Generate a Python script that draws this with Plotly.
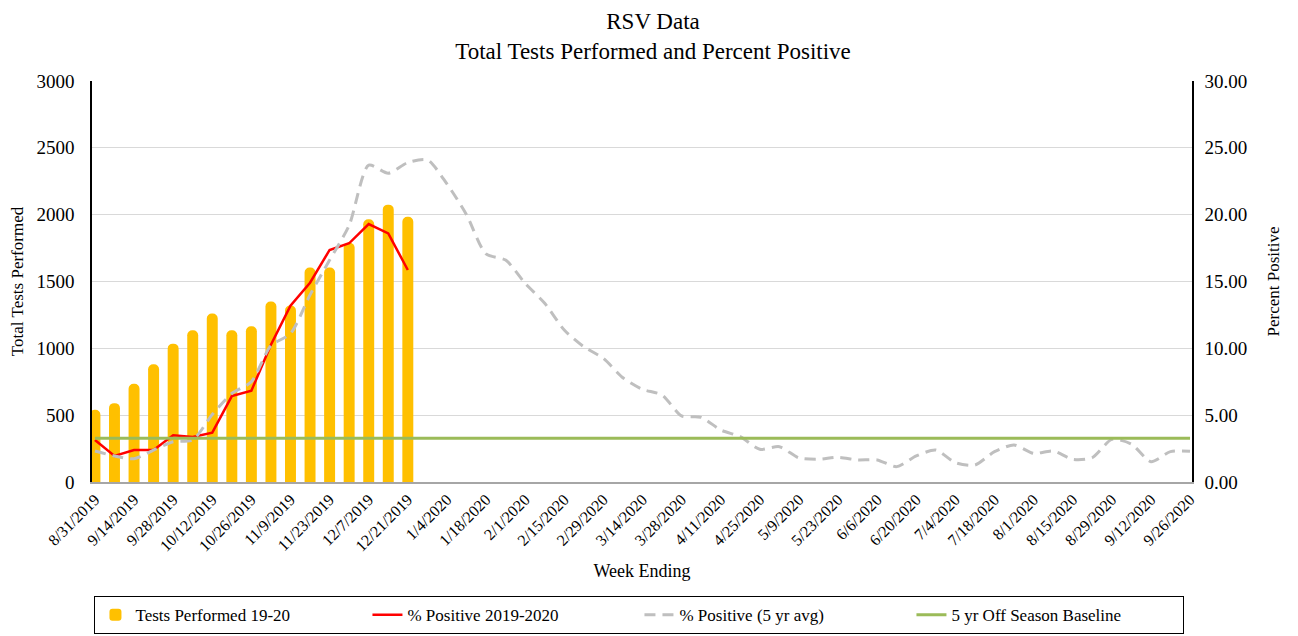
import plotly.graph_objects as go

# week ending dates (categories)
weeks = ["8/31/2019", "9/7/2019", "9/14/2019", "9/21/2019", "9/28/2019",
         "10/5/2019", "10/12/2019", "10/19/2019", "10/26/2019", "11/2/2019",
         "11/9/2019", "11/16/2019", "11/23/2019", "11/30/2019", "12/7/2019",
         "12/14/2019", "12/21/2019", "12/28/2019", "1/4/2020", "1/11/2020",
         "1/18/2020", "1/25/2020", "2/1/2020", "2/8/2020", "2/15/2020",
         "2/22/2020", "2/29/2020", "3/7/2020", "3/14/2020", "3/21/2020",
         "3/28/2020", "4/4/2020", "4/11/2020", "4/18/2020", "4/25/2020",
         "5/2/2020", "5/9/2020", "5/16/2020", "5/23/2020", "5/30/2020",
         "6/6/2020", "6/13/2020", "6/20/2020", "6/27/2020", "7/4/2020",
         "7/11/2020", "7/18/2020", "7/25/2020", "8/1/2020", "8/8/2020",
         "8/15/2020", "8/22/2020", "8/29/2020", "9/5/2020", "9/12/2020",
         "9/19/2020", "9/26/2020"]

# tests performed 19-20 (season so far)
tests_1920 = [540, 590, 735, 880, 1035, 1135, 1260, 1135, 1165, 1350,
              1320, 1605, 1605, 1790, 1965, 2075, 1985]

# % positive 2019-2020
pos_1920 = [3.14, 1.95, 2.39, 2.39, 3.49, 3.37, 3.69, 6.43, 6.83, 10.27,
            13.19, 14.91, 17.36, 17.86, 19.30, 18.60, 15.86]

# % positive, 5 year average
pos_5yr = [2.32, 1.95, 1.74, 2.39, 3.01, 3.15, 5.05, 6.62, 7.50, 10.20,
           11.10, 14.00, 16.60, 19.20, 23.70, 23.10, 23.90, 24.10, 22.30, 20.00,
           17.06, 16.60, 14.86, 13.37, 11.37, 10.12, 9.25, 7.80, 6.93, 6.51,
           4.94, 4.84, 3.89, 3.39, 2.45, 2.64, 1.80, 1.70, 1.85, 1.65,
           1.65, 1.15, 1.95, 2.39, 1.45, 1.27, 2.27, 2.77, 2.14, 2.32,
           1.70, 1.82, 3.19, 2.84, 1.52, 2.27, 2.30]

# 5 yr off season baseline
baseline = 3.27

tick_weeks = weeks[::2]

FONT = "Liberation Serif"

fig = go.Figure()
fig.add_trace(go.Bar(
    x=weeks[:len(tests_1920)], y=tests_1920, name="Tests Performed 19-20",
    marker=dict(color="#FFC000", line=dict(width=0)), width=0.56))
fig.add_trace(go.Scatter(
    x=weeks[:len(pos_1920)], y=pos_1920, name="% Positive 2019-2020",
    mode="lines", line=dict(color="#FF0000", width=2.5), yaxis="y2"))
fig.add_trace(go.Scatter(
    x=weeks, y=pos_5yr, name="% Positive (5 yr avg)", mode="lines",
    line=dict(color="#BFBFBF", width=3, dash="11px,7px", shape="spline", smoothing=0.7),
    yaxis="y2"))
fig.add_trace(go.Scatter(
    x=[weeks[0], weeks[-1]], y=[baseline, baseline], name="5 yr Off Season Baseline",
    mode="lines", line=dict(color="#9BBB59", width=3), yaxis="y2"))

# the page body adds an 8px margin, so the figure is sized 8px smaller
fig.update_layout(
    width=1290, height=628,
    margin=dict(l=84, r=106, t=73, b=154),
    plot_bgcolor="white", paper_bgcolor="white",
    font=dict(family=FONT, size=17, color="black"),
    barcornerradius=5,
    title=dict(text="RSV Data<br>Total Tests Performed and Percent Positive",
               x=0.5, xanchor="center", y=0.967, yanchor="middle", yref="container",
               font=dict(family=FONT, size=23, color="black")),
    xaxis=dict(type="category", range=[-0.15, 56.1], tickmode="array",
               tickvals=tick_weeks, ticktext=tick_weeks, tickangle=-45,
               showline=True, linecolor="#A6A6A6", linewidth=2, showgrid=False,
               ticks="", tickfont=dict(size=16), automargin=False,
               title=dict(text="Week Ending", standoff=11,
                          font=dict(size=18))),
    yaxis=dict(range=[0, 3000], dtick=500, showgrid=True, gridcolor="#D9D9D9",
               gridwidth=1, showline=True, linecolor="black", linewidth=1.5,
               zeroline=False, ticks="", tickfont=dict(size=19),
               ticklabelstandoff=12, automargin=False,
               title=dict(text="Total Tests Performed", standoff=14,
                          font=dict(size=17))),
    yaxis2=dict(range=[0, 30], dtick=5, tickformat=".2f", overlaying="y",
                side="right", showgrid=False, showline=True, linecolor="black",
                linewidth=1.5, zeroline=False, ticks="", tickfont=dict(size=19),
                ticklabelstandoff=7, automargin=False,
                title=dict(text="Percent Positive", standoff=21,
                           font=dict(size=17))),
    legend=dict(orientation="h", x=0.4895, xanchor="center", xref="container",
                y=0.0635, yanchor="top", yref="container",
                bordercolor="black", borderwidth=1, entrywidth=227,
                entrywidthmode="pixels", font=dict(size=17), traceorder="normal"),
    showlegend=True,
)

fig.write_html("out.html")
